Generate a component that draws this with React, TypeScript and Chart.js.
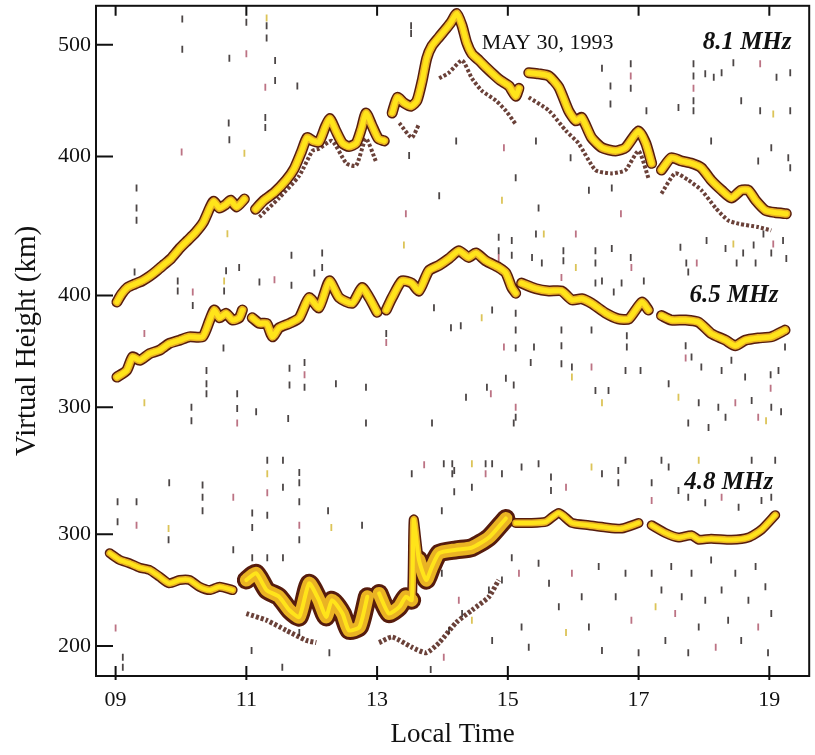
import React, { useEffect, useRef } from "react";
import { Chart, registerables } from "chart.js";

Chart.register(...registerables);

// ---------- axes ----------
const hourTicks = [9, 11, 13, 15, 17, 19];
const timeMin = 8.7;
const timeMax = 19.61;

// three frequency panels share one height axis; each is shifted by a km offset
const panelShift = { top: 237.5, mid: 113.4, low: 0 };
const topTicks = [400, 500];
const midTicks = [300, 400];
const lowTicks = [200, 300];
const heightMin = 173.2;
const heightMax = 772.3;

// ---------- 8.1 MHz ----------
const f81Time = [
  9.02, 9.09, 9.18, 9.29, 9.41, 9.52, 9.63, 9.75, 9.85, 9.98, 10.1, 10.22, 10.34, 10.44, 10.5, 10.59, 10.68, 10.76, 10.85, 10.97, null,
  11.14, 11.27, 11.43, 11.61, 11.73, 11.84, 11.93, 12.02, 12.11, 12.21, 12.28, 12.37, 12.47, 12.57, 12.68, 12.76, 12.83, 12.92, 13.02, 13.11, null,
  13.23, 13.31, 13.41, 13.52, 13.61, 13.69, 13.76, 13.84, 13.95, 14.05, 14.13, 14.22, 14.3, 14.37, 14.45, 14.56, 14.68, 14.79, 14.89, 15.02, 15.12, 15.17, null,
  15.32, 15.47, 15.63, 15.78, 15.93, 16.04, 16.13, 16.28, 16.44, 16.65, 16.8, 17.0, 17.11, 17.2, null,
  17.35, 17.5, 17.66, 17.81, 17.96, 18.11, 18.27, 18.42, 18.57, 18.68, 18.79, 18.94, 19.09, 19.26,
];
const f81Km = [
  270, 277, 283, 286, 289, 293, 298, 304, 309, 318, 325, 332, 341, 354, 360, 354, 357, 361, 355, 362, null,
  353, 361, 368, 379, 389, 404, 417, 414, 413, 427, 434, 423, 412, 409, 412, 425, 439, 428, 416, 414, null,
  439, 453, 448, 445, 450, 468, 488, 499, 507, 514, 520, 528, 517, 502, 492, 486, 479, 473, 468, 463, 454, 461, null,
  475, 474, 472, 462, 441, 432, 435, 417, 408, 405, 408, 423, 412, 394, null,
  388, 399, 396, 394, 390, 379, 370, 363, 370, 370, 361, 352, 350, 349,
];
const f81EchoTime = [
  11.2, 11.5, 11.81, 12.01, 12.11, 12.31, 12.53, 12.68, 12.83, 12.98, null,
  13.34, 13.53, 13.64, null,
  13.95, 14.1, 14.3, 14.45, 14.6, 14.82, 14.97, 15.12, null,
  15.32, 15.63, 15.89, 16.08, 16.34, 16.59, 16.8, 17.0, 17.15, null,
  17.35, 17.56, 17.76, 17.96, 18.18, 18.37, 18.53, 18.83, 19.03,
];
const f81EchoKm = [
  346, 363, 383, 405, 407, 414, 394, 392, 416, 396, null,
  430, 417, 429, null,
  470, 475, 486, 470, 459, 450, 441, 429, null,
  453, 441, 423, 412, 388, 385, 388, 405, 381, null,
  367, 385, 379, 370, 354, 343, 340, 337, 334,
];

// ---------- 6.5 MHz ----------
const f65Time = [
  9.02, 9.17, 9.26, 9.37, 9.52, 9.67, 9.82, 9.98, 10.13, 10.33, 10.44, 10.51, 10.59, 10.69, 10.79, 10.89, 10.94, null,
  11.09, 11.2, 11.31, 11.4, 11.5, 11.66, 11.81, 11.96, 12.11, 12.27, 12.42, 12.62, 12.77, 12.88, 13.0, null,
  13.14, 13.23, 13.38, 13.53, 13.64, 13.79, 13.95, 14.1, 14.25, 14.4, 14.51, 14.66, 14.86, 14.97, 15.06, 15.12, null,
  15.21, 15.43, 15.63, 15.82, 15.98, 16.13, 16.28, 16.5, 16.69, 16.85, 17.05, 17.15, null,
  17.35, 17.5, 17.72, 17.92, 18.11, 18.33, 18.48, 18.63, 18.83, 19.03, 19.24,
];
const f65Km = [
  327, 333, 345, 342, 348, 351, 357, 360, 363, 363, 378, 387, 380, 384, 378, 380, 387, null,
  380, 375, 375, 363, 371, 375, 380, 398, 389, 413, 398, 393, 407, 398, 385, null,
  387, 398, 413, 411, 404, 422, 427, 433, 440, 434, 438, 431, 425, 420, 407, 402, null,
  411, 406, 404, 404, 396, 397, 393, 384, 379, 379, 394, 387, null,
  382, 378, 378, 376, 366, 360, 355, 360, 362, 363, 369,
];

// ---------- 4.8 MHz ----------
const f48Time = [
  8.91, 9.06, 9.21, 9.37, 9.52, 9.67, 9.82, 9.98, 10.13, 10.28, 10.44, 10.59, 10.79, null,
  11.0, 11.15, 11.31, 11.5, 11.66, 11.81, 11.96, 12.11, 12.22, 12.31, 12.47, 12.57, 12.73, 12.85, null,
  13.03, 13.18, 13.34, 13.44, 13.53, 13.56, 13.64, 13.75, 13.84, 13.95, 14.21, 14.45, 14.71, 14.91, 14.97, null,
  15.12, 15.32, 15.58, 15.78, 15.98, 16.24, 16.5, 16.74, 17.0, null,
  17.2, 17.41, 17.61, 17.81, 17.92, 18.11, 18.42, 18.68, 18.88, 19.09,
];
const f48Km = [
  283, 277, 274, 270, 268, 262, 256, 259, 259, 253, 250, 253, 250, null,
  259, 265, 250, 244, 232, 226, 256, 241, 226, 241, 229, 214, 217, 244, null,
  247, 229, 235, 244, 241, 313, 277, 259, 271, 283, 286, 288, 297, 310, 314, null,
  310, 310, 311, 319, 310, 308, 306, 305, 310, null,
  308, 301, 297, 299, 295, 296, 295, 297, 304, 317,
];
const f48EchoTime = [
  11.0, 11.31, 11.61, 11.92, 12.07, null,
  13.03, 13.23, 13.53, 13.75, 13.95, 14.21, 14.45, 14.71, 14.86,
];
const f48EchoKm = [
  229, 223, 214, 205, 203, null,
  203, 208, 199, 194, 203, 221, 232, 244, 259,
];
// time windows where the 4.8 MHz trace is spread wide
const f48WideWindows = [[10.95, 13.53], [13.64, 15.0]];

// ---------- scattered echoes (time h, height km) ----------
const noiseTop: [number, number][] = [
  [10.02, 523], [10.02, 496], [10.74, 488], [11.0, 492], [11.0, 520], [11.31, 524], [11.31, 517], [11.31, 506],
  [11.44, 486], [11.44, 468], [11.29, 462], [11.78, 463], [11.29, 435], [11.29, 426], [10.73, 430], [10.74, 415],
  [10.97, 403], [10.01, 404], [9.32, 372], [9.32, 354], [9.32, 343], [13.52, 517], [13.52, 510], [13.95, 365],
  [13.44, 349], [14.21, 414], [13.49, 401], [10.71, 331], [16.44, 479], [16.57, 463], [16.88, 483], [16.88, 472],
  [16.88, 461], [16.57, 447], [17.12, 441], [17.61, 444], [17.84, 483], [17.84, 472], [17.84, 461], [17.84, 450],
  [17.84, 441], [18.02, 474], [18.15, 471], [18.27, 475], [18.45, 484], [18.86, 483], [19.11, 471], [19.32, 475],
  [18.86, 441], [19.06, 438], [19.32, 441], [18.57, 450], [14.94, 408], [15.12, 381], [15.43, 414], [15.96, 399],
  [16.24, 370], [16.59, 372], [15.47, 354], [16.73, 349], [14.91, 361], [18.11, 414], [19.03, 408], [19.29, 399],
  [19.32, 390], [18.83, 396],
];
const noiseMid: [number, number][] = [
  [9.29, 421], [9.95, 413], [9.95, 404], [10.18, 403], [10.18, 391], [10.66, 413], [10.66, 404], [10.69, 422],
  [10.89, 425], [11.2, 412], [11.43, 414], [11.69, 409], [11.69, 436], [12.16, 438], [12.16, 425], [12.04, 420],
  [13.41, 445], [9.44, 366], [10.65, 353], [10.39, 333], [10.39, 321], [10.39, 312], [10.86, 312], [10.86, 299],
  [10.86, 286], [10.16, 300], [10.16, 288], [9.44, 304], [11.66, 335], [11.66, 320], [11.89, 340], [11.89, 329],
  [11.89, 318], [12.37, 321], [12.83, 318], [13.87, 389], [14.13, 371], [13.14, 366], [13.14, 358], [11.64, 290],
  [12.83, 286], [13.84, 286], [11.15, 296], [14.86, 452], [14.86, 440], [14.86, 434], [15.06, 449], [15.06, 436],
  [15.43, 455], [15.55, 455], [15.85, 440], [15.85, 431], [16.04, 455], [16.34, 440], [16.34, 429], [16.59, 442],
  [16.88, 434], [15.37, 434], [15.52, 429], [15.82, 416], [16.04, 425], [16.34, 411], [16.44, 413], [16.74, 411],
  [17.08, 413], [16.62, 403], [16.89, 425], [15.12, 384], [15.12, 369], [15.12, 353], [14.76, 387], [14.6, 380],
  [14.28, 373], [14.94, 354], [15.4, 354], [15.82, 369], [15.82, 355], [16.28, 369], [16.82, 364], [16.82, 354],
  [16.28, 336], [15.98, 336], [15.98, 327], [15.82, 339], [15.35, 340], [14.97, 326], [14.68, 318], [14.74, 312],
  [15.09, 320], [17.03, 333], [16.8, 333], [16.34, 315], [16.54, 315], [16.44, 304], [15.12, 300], [15.12, 291],
  [15.09, 286], [14.36, 309], [17.64, 443], [17.73, 429], [17.76, 421], [17.89, 429], [18.04, 449], [18.33, 442],
  [18.45, 446], [18.6, 438], [18.76, 445], [18.91, 455], [19.06, 446], [19.21, 449], [19.03, 438], [18.5, 429],
  [18.79, 429], [19.26, 433], [17.72, 355], [17.72, 344], [17.81, 345], [17.96, 336], [18.27, 333], [18.42, 342],
  [18.63, 327], [19.02, 329], [19.02, 317], [19.14, 333], [19.24, 354], [17.46, 321], [17.61, 309], [17.92, 304],
  [18.22, 300], [18.48, 304], [18.73, 306], [19.03, 300], [19.18, 296], [17.76, 286], [18.07, 282], [18.33, 291],
  [18.83, 291], [18.95, 288],
];
const noiseLow: [number, number][] = [
  [9.03, 329], [9.03, 311], [9.32, 329], [9.32, 308], [9.82, 346], [9.81, 305], [9.81, 295], [10.33, 344],
  [10.33, 333], [10.33, 321], [10.8, 333], [10.8, 286], [11.09, 319], [11.09, 306], [11.09, 279], [11.32, 366],
  [11.32, 354], [11.32, 337], [11.32, 317], [11.56, 366], [11.56, 342], [11.81, 355], [11.81, 346], [11.81, 329],
  [11.81, 308], [11.81, 295], [12.25, 321], [12.3, 306], [12.77, 308], [11.32, 279], [11.56, 279], [9.0, 216],
  [9.11, 190], [9.11, 181], [11.08, 196], [11.81, 212], [12.27, 194], [11.55, 181], [13.72, 362], [14.02, 363],
  [14.18, 357], [14.18, 338], [13.53, 354], [13.99, 321], [14.1, 214], [14.02, 190], [13.82, 179],
  [14.15, 363], [14.15, 354], [14.45, 363], [14.45, 342], [14.66, 363], [14.66, 354], [14.76, 363], [14.91, 354],
  [15.21, 360], [15.47, 363], [15.66, 351], [15.66, 339], [15.89, 342], [16.28, 360], [16.44, 354], [16.69, 357],
  [16.69, 346], [16.8, 366], [17.2, 346], [17.2, 330], [17.35, 366], [17.46, 360], [17.61, 339], [17.76, 333],
  [17.92, 366], [18.02, 328], [18.27, 333], [18.53, 324], [18.73, 366], [18.88, 330], [19.03, 333], [19.09, 366],
  [13.99, 265], [14.25, 241], [14.3, 229], [14.45, 223], [14.71, 250], [14.76, 205], [14.91, 259], [15.06, 279],
  [15.17, 265], [15.21, 217], [15.32, 199], [15.47, 274], [15.63, 256], [15.78, 235], [15.89, 212], [15.98, 265],
  [16.13, 244], [16.24, 217], [16.39, 271], [16.44, 196], [16.65, 244], [16.8, 265], [16.89, 223], [17.0, 194],
  [17.2, 265], [17.26, 235], [17.35, 250], [17.41, 205], [17.5, 271], [17.56, 229], [17.66, 244], [17.76, 194],
  [17.81, 265], [17.92, 217], [18.02, 241], [18.11, 277], [18.18, 199], [18.27, 250], [18.37, 223], [18.48, 265],
  [18.57, 205], [18.68, 241], [18.79, 271], [18.83, 217], [18.94, 253], [18.98, 194], [19.03, 229],
];

// ---------- text ----------
const dateLabel = "MAY 30, 1993";
const freqLabels = { top: "8.1 MHz", mid: "6.5 MHz", low: "4.8 MHz" };
// anchor positions of the text in data units (time h, km)
const dateAnchor = [14.6, 496];
const freqAnchors = { top: [19.34, 496], mid: [19.14, 394], low: [19.06, 340] };

const SERIF = '"Liberation Serif", "Times New Roman", serif';
const YELLOW = "#ffe41a";
const ORANGE = "#eab324";
const DARK = "#561c0e";

function toPoints(times: (number | null)[], kms: (number | null)[], shift: number) {
  return times.map((t, i) => {
    const k = kms[i];
    const x = t == null ? (times[i - 1] as number) : t;
    return { x, y: k == null ? null : k + shift };
  });
}

function pairsToPoints(pairs: [number, number][], shift: number) {
  return pairs.map(([t, k]) => ({ x: t, y: k + shift }));
}

// keep only the points inside the given time windows, breaking the line between windows
function windowed(times: (number | null)[], kms: (number | null)[], windows: number[][]) {
  const t2: (number | null)[] = [];
  const k2: (number | null)[] = [];
  windows.forEach(([a, b], w) => {
    if (w > 0) {
      t2.push(a);
      k2.push(null);
    }
    times.forEach((t, i) => {
      if (t == null) {
        if (t2.length && k2[k2.length - 1] != null) {
          t2.push(times[i - 1]);
          k2.push(null);
        }
      } else if (t >= a && t <= b) {
        t2.push(t);
        k2.push(kms[i]);
      }
    });
  });
  return [t2, k2] as const;
}

const yTickMap: { value: number; label: string }[] = [
  ...lowTicks.map((v) => ({ value: v + panelShift.low, label: String(v) })),
  ...midTicks.map((v) => ({ value: v + panelShift.mid, label: String(v) })),
  ...topTicks.map((v) => ({ value: v + panelShift.top, label: String(v) })),
];

const framePlugin = {
  id: "frame",
  afterDatasetsDraw(chart: any) {
    const { ctx, chartArea: a, scales } = chart;
    const xs = scales.x;
    const ys = scales.y;
    ctx.save();
    ctx.strokeStyle = "#111";
    ctx.lineWidth = 2;
    ctx.strokeRect(a.left, a.top, a.right - a.left, a.bottom - a.top);
    ctx.beginPath();
    yTickMap.forEach((t) => {
      const y = ys.getPixelForValue(t.value);
      ctx.moveTo(a.left, y);
      ctx.lineTo(a.left + 17, y);
    });
    hourTicks.forEach((h) => {
      const x = xs.getPixelForValue(h);
      ctx.moveTo(x, a.bottom + 4);
      ctx.lineTo(x, a.bottom - 10);
      ctx.moveTo(x, a.top);
      ctx.lineTo(x, a.top + 10);
    });
    ctx.stroke();

    ctx.fillStyle = "#111";
    ctx.textBaseline = "alphabetic";
    ctx.font = `22px ${SERIF}`;
    ctx.textAlign = "left";
    ctx.fillText(
      dateLabel,
      xs.getPixelForValue(dateAnchor[0]),
      ys.getPixelForValue(dateAnchor[1] + panelShift.top)
    );
    ctx.font = `italic bold 25px ${SERIF}`;
    ctx.textAlign = "right";
    (["top", "mid", "low"] as const).forEach((p) => {
      const [t, k] = freqAnchors[p];
      ctx.fillText(freqLabels[p], xs.getPixelForValue(t), ys.getPixelForValue(k + panelShift[p]));
    });
    ctx.restore();
  },
};

function traceLayers(times: (number | null)[], kms: (number | null)[], shift: number, w: [number, number, number]) {
  const data = toPoints(times, kms, shift);
  const common = {
    data,
    pointRadius: 0,
    tension: 0.2,
    spanGaps: false,
    borderCapStyle: "round",
    borderJoinStyle: "round",
    fill: false,
  };
  return [
    { ...common, borderColor: DARK, borderWidth: w[0], order: 4 },
    { ...common, borderColor: ORANGE, borderWidth: w[1], order: 3 },
    { ...common, borderColor: YELLOW, borderWidth: w[2], order: 2 },
  ];
}

function echoLayer(times: (number | null)[], kms: (number | null)[], shift: number, width: number) {
  return {
    data: toPoints(times, kms, shift),
    pointRadius: 0,
    tension: 0.2,
    spanGaps: false,
    borderColor: "rgba(80,32,22,0.85)",
    borderWidth: width,
    borderDash: [3, 2],
    borderCapStyle: "butt",
    fill: false,
    order: 5,
  };
}

function noiseLayer(pairs: [number, number][], shift: number) {
  return {
    data: pairsToPoints(pairs, shift),
    showLine: false,
    pointStyle: "line",
    pointRotation: 90,
    pointRadius: 3.5,
    pointBorderWidth: 1.8,
    pointBorderColor: (c: any) =>
      c.dataIndex % 7 === 3 ? "rgba(176,90,110,0.85)" : c.dataIndex % 11 === 5 ? "rgba(216,190,70,0.9)" : "rgba(45,38,38,0.85)",
    order: 6,
  };
}

export default function App() {
  const ref = useRef<HTMLCanvasElement | null>(null);

  useEffect(() => {
    if (!ref.current) return;
    const [wideT, wideK] = windowed(f48Time, f48Km, f48WideWindows);
    const wideData = toPoints(wideT as any, wideK as any, panelShift.low);
    const datasets: any[] = [
      noiseLayer(noiseTop, panelShift.top),
      noiseLayer(noiseMid, panelShift.mid),
      noiseLayer(noiseLow, panelShift.low),
      echoLayer(f81EchoTime, f81EchoKm, panelShift.top, 4),
      echoLayer(f48EchoTime, f48EchoKm, panelShift.low, 5),
      ...traceLayers(f81Time, f81Km, panelShift.top, [11, 8, 5]),
      ...traceLayers(f65Time, f65Km, panelShift.mid, [11, 8, 5]),
      ...traceLayers(f48Time, f48Km, panelShift.low, [10, 7, 4]),
      {
        data: wideData,
        pointRadius: 0,
        tension: 0.2,
        spanGaps: false,
        borderColor: DARK,
        borderWidth: 19,
        borderJoinStyle: "round",
        borderCapStyle: "round",
        order: 4.5,
      },
      {
        data: wideData,
        pointRadius: 0,
        tension: 0.2,
        spanGaps: false,
        borderColor: ORANGE,
        borderWidth: 13,
        borderJoinStyle: "round",
        borderCapStyle: "round",
        order: 3.5,
      },
    ];

    const chart = new Chart(ref.current, {
      type: "line",
      data: { datasets },
      plugins: [framePlugin],
      options: {
        responsive: false,
        animation: false,
        events: [],
        layout: { padding: { left: 0, right: 4, top: 5, bottom: 0 } },
        plugins: { legend: { display: false }, tooltip: { enabled: false } },
        scales: {
          x: {
            type: "linear",
            min: timeMin,
            max: timeMax,
            grid: { display: false, drawTicks: false },
            border: { display: false },
            afterBuildTicks: (s: any) => {
              s.ticks = hourTicks.map((v) => ({ value: v }));
            },
            afterFit: (s: any) => {
              s.height = 79;
              s.paddingLeft = 0;
              s.paddingRight = 0;
            },
            ticks: {
              padding: 11,
              color: "#111",
              autoSkip: false,
              maxRotation: 0,
              font: { family: SERIF, size: 22 },
              callback: (v: any) => String(v).padStart(2, "0"),
            },
            title: {
              display: true,
              text: "Local Time",
              color: "#111",
              font: { family: SERIF, size: 27 },
              padding: { top: 0, bottom: 4 },
            },
          },
          y: {
            type: "linear",
            min: heightMin,
            max: heightMax,
            grid: { display: false, drawTicks: false },
            border: { display: false },
            afterBuildTicks: (s: any) => {
              s.ticks = yTickMap.map((t) => ({ value: t.value }));
            },
            afterFit: (s: any) => {
              s.width = 96;
              s.paddingTop = 0;
              s.paddingBottom = 0;
            },
            ticks: {
              padding: 5,
              color: "#111",
              autoSkip: false,
              font: { family: SERIF, size: 22 },
              callback: (v: any) => {
                const m = yTickMap.find((t) => Math.abs(t.value - v) < 0.01);
                return m ? m.label : "";
              },
            },
            title: {
              display: true,
              text: "Virtual Height (km)",
              color: "#111",
              font: { family: SERIF, size: 29 },
              padding: { top: 10, bottom: 0 },
            },
          },
        },
      } as any,
    });
    return () => chart.destroy();
  }, []);

  return (
    <div style={{ position: "absolute", left: 0, top: 0, width: 815, height: 755, background: "#fff" }}>
      <canvas ref={ref} width={815} height={755} />
    </div>
  );
}
